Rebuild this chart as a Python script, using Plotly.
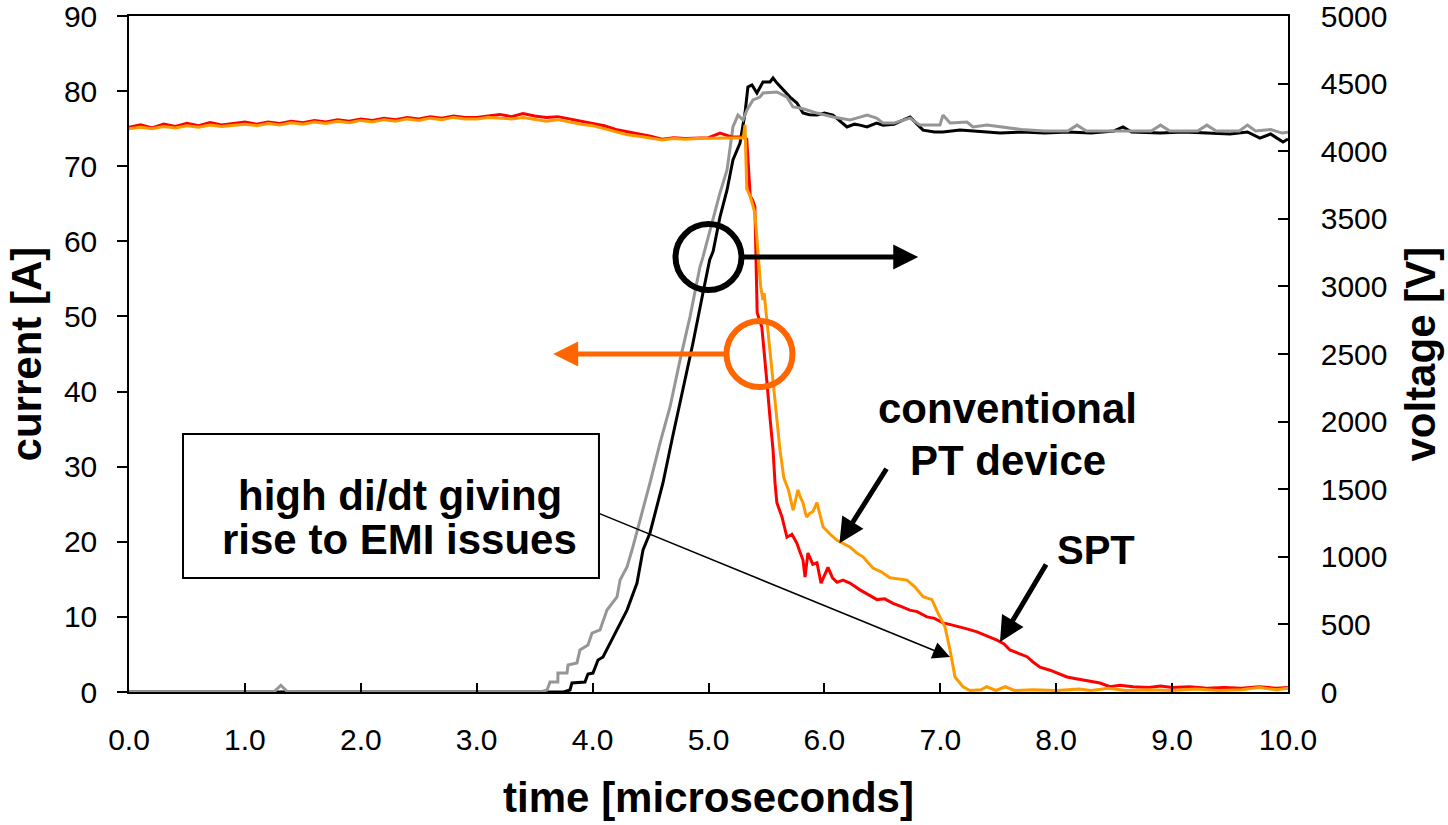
import plotly.graph_objects as go

# ---- current waveforms (A) ----
t_spt = [0.0, 0.1, 0.2, 0.3, 0.4, 0.5, 0.6, 0.7, 0.8, 0.9, 1.0, 1.1, 1.2, 1.3, 1.4, 1.5, 1.6, 1.7, 1.8, 1.9,
         2.0, 2.1, 2.2, 2.3, 2.4, 2.5, 2.6, 2.7, 2.8, 2.9, 3.0, 3.1, 3.2, 3.3, 3.4, 3.5, 3.6, 3.7, 3.8, 3.9,
         4.0, 4.1, 4.2, 4.3, 4.4, 4.5, 4.6, 4.7, 4.8, 4.9, 5.0, 5.1, 5.2, 5.3,
         5.33, 5.36, 5.38, 5.40, 5.41, 5.42, 5.46, 5.49, 5.505, 5.53, 5.557, 5.574, 5.59, 5.634, 5.677,
         5.72, 5.763, 5.79, 5.815, 5.833, 5.858, 5.90, 5.936, 5.971, 6.031, 6.07, 6.109, 6.16, 6.22,
         6.307, 6.38, 6.454, 6.52, 6.592, 6.66, 6.737, 6.80, 6.885, 6.95, 7.023, 7.08, 7.144, 7.23,
         7.317, 7.40, 7.489, 7.55, 7.601, 7.68, 7.748, 7.80, 7.86, 7.947, 8.02, 8.093, 8.16, 8.231,
         8.30, 8.378, 8.464, 8.55, 8.663, 8.80, 8.90, 9.00, 9.15, 9.30, 9.45, 9.60, 9.75, 9.90, 10.0]
i_spt = [75.2, 75.5, 75.1, 75.6, 75.3, 75.7, 75.4, 75.8, 75.5, 75.7, 75.9, 75.6, 75.9, 75.7, 76.0, 75.8, 76.1, 75.9, 76.2, 76.0,
         76.3, 76.1, 76.4, 76.2, 76.5, 76.3, 76.6, 76.4, 76.7, 76.5, 76.5, 76.7, 76.9, 76.6, 77.0, 76.7, 76.5, 76.6, 76.3, 76.1,
         75.8, 75.4, 74.9, 74.6, 74.4, 74.0, 73.6, 73.8, 73.7, 73.8, 73.8, 74.4, 73.9, 73.9,
         73.6, 66.0, 65.5, 64.6, 58.9, 50.5, 48.6, 44.2, 41.1, 36.6, 32.2, 27.8, 25.2, 23.3, 20.6,
         21.0, 19.8, 18.6, 17.6, 15.3, 18.5, 17.0, 17.2, 14.5, 16.6, 15.2, 14.6, 14.9, 14.5,
         13.6, 13.0, 12.3, 12.4, 11.8, 11.4, 10.9, 10.7, 10.0, 9.8, 9.2, 9.0, 8.7, 8.4,
         8.0, 7.5, 6.9, 6.4, 5.6, 5.1, 4.7, 4.0, 3.3, 2.9, 2.4, 2.0, 1.8, 1.6,
         1.4, 1.2, 0.7, 0.9, 0.7, 0.6, 0.8, 0.6, 0.7, 0.5, 0.6, 0.5, 0.7, 0.5, 0.6]

t_pt = [0.0, 0.1, 0.2, 0.3, 0.4, 0.5, 0.6, 0.7, 0.8, 0.9, 1.0, 1.1, 1.2, 1.3, 1.4, 1.5, 1.6, 1.7, 1.8, 1.9,
        2.0, 2.1, 2.2, 2.3, 2.4, 2.5, 2.6, 2.7, 2.8, 2.9, 3.0, 3.1, 3.2, 3.3, 3.4, 3.5, 3.6, 3.7, 3.8, 3.9,
        4.0, 4.1, 4.2, 4.3, 4.4, 4.5, 4.6, 4.7, 4.8, 4.9, 5.0, 5.1, 5.2, 5.3,
        5.315, 5.33, 5.36, 5.40, 5.45, 5.47, 5.48, 5.531, 5.557, 5.591, 5.617, 5.65, 5.69, 5.73, 5.772,
        5.79, 5.815, 5.845, 5.875, 5.90, 5.936, 5.988, 6.05, 6.109, 6.16, 6.22, 6.28, 6.333, 6.419,
        6.49, 6.566, 6.64, 6.713, 6.78, 6.851, 6.928, 6.98, 7.04, 7.084, 7.127, 7.196, 7.256,
        7.35, 7.40, 7.48, 7.56, 7.64, 7.80, 8.0, 8.2, 8.3, 8.45, 8.6, 8.8, 9.0, 9.2, 9.4, 9.6, 9.75, 9.9, 10.0]
i_pt = [75.0, 75.2, 75.0, 75.3, 75.1, 75.4, 75.2, 75.5, 75.3, 75.5, 75.6, 75.4, 75.7, 75.5, 75.8, 75.6, 75.9, 75.7, 76.0, 75.8,
        76.1, 75.9, 76.2, 76.0, 76.3, 76.1, 76.4, 76.2, 76.5, 76.3, 76.3, 76.5, 76.4, 76.3, 76.5, 76.2, 76.0, 76.2, 75.9, 75.6,
        75.4, 75.0, 74.6, 74.2, 74.0, 73.7, 73.5, 73.7, 73.6, 73.7, 73.7, 73.8, 73.7, 73.8,
        75.5, 67.0, 66.0, 63.8, 54.0, 52.2, 53.1, 45.5, 41.1, 36.6, 32.2, 28.5, 26.9, 24.2, 26.9,
        26.0, 25.2, 23.3, 23.8, 24.0, 25.2, 22.0, 21.0, 20.2, 19.8, 19.3, 18.5, 18.0, 16.5,
        16.0, 15.2, 15.0, 14.9, 14.0, 12.7, 12.3, 10.5, 8.7, 5.6, 2.0, 0.7, 0.2,
        0.3, 0.7, 0.2, 0.7, 0.2, 0.3, 0.2, 0.4, 0.2, 0.5, 0.2, 0.3, 0.2, 0.4, 0.2, 0.3, 0.6, 0.3, 0.5]

# ---- voltage waveforms (V) ----
t_v_spt = [0.0, 0.5, 1.0, 1.5, 2.0, 2.5, 3.0, 3.5, 3.75, 3.805, 3.822, 3.934, 3.96, 4.003, 4.047, 4.09,
           4.15, 4.211, 4.297, 4.383, 4.435, 4.495, 4.607, 4.69, 4.78, 4.866, 4.952, 5.01, 5.04, 5.099,
           5.16, 5.211, 5.272, 5.315, 5.34, 5.375, 5.418, 5.47, 5.531, 5.557, 5.591, 5.643, 5.703, 5.763,
           5.815, 5.87, 5.936, 6.0, 6.074, 6.195, 6.26, 6.307, 6.367, 6.45, 6.506, 6.6, 6.739, 6.80,
           6.851, 6.95, 7.023, 7.17, 7.3, 7.403, 7.515, 7.7, 7.9, 8.1, 8.3, 8.5, 8.576, 8.65, 8.9, 9.1,
           9.3, 9.5, 9.65, 9.758, 9.85, 9.957, 10.0]
v_spt = [0, 0, 0, 0, 0, 0, 0, 0, 0, 15, 67, 74, 133, 140, 237, 259,
         362, 459, 606, 806, 1050, 1176, 1546, 1886, 2234, 2581, 2951, 3195, 3260, 3513,
         3713, 3935, 4060, 4282, 4475, 4490, 4430, 4512, 4512, 4541, 4504, 4453, 4400, 4356,
         4282, 4270, 4267, 4282, 4267, 4179, 4200, 4193, 4179, 4208, 4193, 4200, 4253, 4200,
         4156, 4142, 4142, 4156, 4150, 4142, 4134, 4142, 4134, 4142, 4134, 4150, 4179, 4142, 4134, 4142,
         4134, 4127, 4142, 4097, 4127, 4068, 4090]

t_v_pt = [0.0, 1.25, 1.31, 1.37, 2.0, 3.0, 3.55, 3.607, 3.633, 3.70, 3.701, 3.779, 3.788, 3.865, 3.891,
          3.96, 3.995, 4.064, 4.124, 4.211, 4.237, 4.297, 4.34, 4.495, 4.582, 4.668, 4.754, 4.84, 4.926,
          4.952, 5.039, 5.099, 5.16, 5.211, 5.254, 5.298, 5.332, 5.384, 5.444, 5.47, 5.591, 5.677, 5.729,
          5.789, 5.85, 5.936, 6.074, 6.221, 6.3, 6.368, 6.45, 6.506, 6.6, 6.739, 6.825, 6.997, 7.023,
          7.084, 7.23, 7.282, 7.403, 7.515, 7.7, 7.9, 8.1, 8.18, 8.26, 8.5, 8.82, 8.9, 8.98, 9.22, 9.3,
          9.38, 9.58, 9.65, 9.72, 9.85, 9.95, 10.0]
v_pt = [0, 0, 50, 0, 0, 0, 0, 15, 74, 74, 140, 140, 200, 215, 311,
        348, 436, 459, 606, 703, 828, 925, 1050, 1546, 1842, 2108, 2455, 2773, 3143,
        3217, 3491, 3691, 3861, 4179, 4267, 4231, 4305, 4379, 4400, 4430, 4438, 4400, 4327,
        4319, 4305, 4282, 4253, 4231, 4250, 4267, 4245, 4208, 4208, 4245, 4193, 4193, 4267,
        4208, 4216, 4179, 4193, 4179, 4160, 4150, 4150, 4193, 4150, 4150, 4150, 4193, 4150, 4150, 4193,
        4150, 4150, 4193, 4150, 4160, 4134, 4140]

x_ticks = [0, 1, 2, 3, 4, 5, 6, 7, 8, 9, 10]

FONT = "Liberation Sans, Arial, sans-serif"
ORANGE_MARK = "#FF6600"

fig = go.Figure()

# voltage traces on the right-hand axis
fig.add_trace(go.Scatter(x=t_v_spt, y=v_spt, mode="lines", line=dict(color="black", width=3),
                         yaxis="y", name="voltage SPT"))
fig.add_trace(go.Scatter(x=t_v_pt, y=v_pt, mode="lines", line=dict(color="#969696", width=3),
                         yaxis="y", name="voltage PT"))
# current traces on the left-hand axis
fig.add_trace(go.Scatter(x=t_spt, y=i_spt, mode="lines", line=dict(color="#FF0000", width=3),
                         yaxis="y2", name="current SPT"))
fig.add_trace(go.Scatter(x=t_pt, y=i_pt, mode="lines", line=dict(color="#FF9900", width=3),
                         yaxis="y2", name="current PT"))

axis_common = dict(showgrid=False, zeroline=False, showline=True, linecolor="black", linewidth=1.5,
                   tickcolor="black", tickwidth=1.5, ticklabeloverflow="allow", automargin=False,
                   tickfont=dict(size=30, family=FONT, color="black"))

fig.update_layout(
    width=1448, height=825,
    margin=dict(l=129, r=160, t=16, b=133),
    paper_bgcolor="white", plot_bgcolor="white",
    showlegend=False,
    font=dict(family=FONT, color="black"),
    xaxis=dict(range=[0, 10], tickvals=x_ticks, tickformat=".1f", ticks="inside", ticklen=9,
               mirror=True, ticklabelstandoff=20,
               title=dict(text="<b>time [microseconds]</b>", font=dict(size=42, family=FONT), standoff=28),
               **axis_common),
    yaxis=dict(range=[0, 5000], dtick=500, side="right", ticks="inside", ticklen=10,
               ticklabelstandoff=25, **axis_common),
    yaxis2=dict(range=[0, 90], dtick=10, side="left", overlaying="y", ticks="outside", ticklen=10,
                ticklabelstandoff=14, **axis_common),
)

# circles marking which axis each group of traces belongs to
fig.add_shape(type="circle", xref="x", yref="y2", xsizemode="pixel", ysizemode="pixel",
              xanchor=5.0, yanchor=57.9, x0=-33, x1=33, y0=-33, y1=33,
              line=dict(color="black", width=6))
fig.add_shape(type="circle", xref="x", yref="y2", xsizemode="pixel", ysizemode="pixel",
              xanchor=5.44, yanchor=45.0, x0=-33, x1=33, y0=-33, y1=33,
              line=dict(color=ORANGE_MARK, width=6))

# text box
fig.add_shape(type="rect", xref="x", yref="y2", x0=0.466, x1=4.055, y0=15.18, y1=34.35,
              line=dict(color="black", width=2), fillcolor="white", layer="above")

arrow_common = dict(xref="x", yref="y2", axref="pixel", ayref="pixel", text="", showarrow=True,
                    arrowhead=2)
annotations = [
    dict(x=6.81, y=57.9, ax=-177, ay=0, arrowcolor="black", arrowwidth=5, arrowsize=1, **arrow_common),
    dict(x=3.66, y=45.0, ax=174, ay=0, arrowcolor=ORANGE_MARK, arrowwidth=5, arrowsize=1, **arrow_common),
    dict(x=6.13, y=19.8, ax=48, ay=-76, arrowcolor="black", arrowwidth=5, arrowsize=1, **arrow_common),
    dict(x=7.515, y=6.66, ax=47, ay=-79, arrowcolor="black", arrowwidth=5, arrowsize=1, **arrow_common),
    dict(x=7.084, y=4.66, ax=-352, ay=-144, arrowcolor="black", arrowwidth=1.5, arrowsize=2.3, **arrow_common),
]

# vertical axis titles
title_font = dict(size=42, family=FONT, color="black")
annotations.append(dict(text="<b>current [A]</b>", xref="paper", yref="paper", x=-0.0885, y=0.5,
                        xanchor="center", yanchor="middle", textangle=-90, showarrow=False,
                        font=title_font))
annotations.append(dict(text="<b>voltage [V]</b>", xref="paper", yref="paper", x=1.1135, y=0.5,
                        xanchor="center", yanchor="middle", textangle=-90, showarrow=False,
                        font=title_font))

label_common = dict(xref="x", yref="y2", showarrow=False, xanchor="center", yanchor="middle")
labels = [
    ("<b>conventional</b>", 7.584, 37.7, 42),
    ("<b>PT device</b>", 7.584, 30.8, 42),
    ("<b>SPT</b>", 8.34, 18.9, 40),
    ("<b>high di/dt giving</b>", 2.338, 26.2, 42),
    ("<b>rise to EMI issues</b>", 2.338, 20.3, 42),
]
for text, x, y, size in labels:
    annotations.append(dict(text=text, x=x, y=y, font=dict(size=size, family=FONT, color="black"),
                            **label_common))

fig.update_layout(annotations=annotations)

fig.write_html("out.html")
